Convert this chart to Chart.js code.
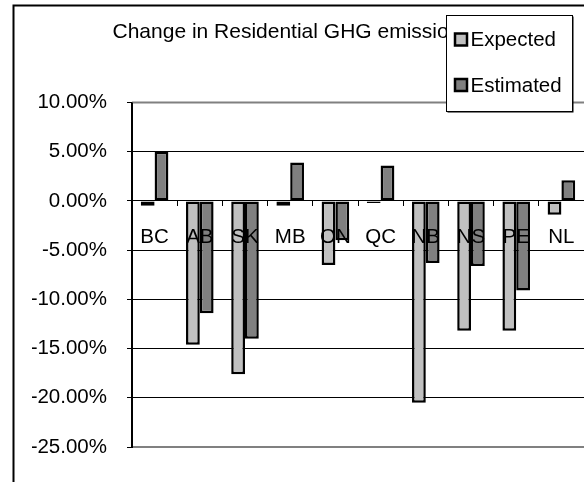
<!DOCTYPE html>
<html>
<head>
<meta charset="utf-8">
<script src="https://cdn.jsdelivr.net/npm/chart.js@4"></script>
<style>
  html, body { margin: 0; padding: 0; background: #fff; }
  canvas { display: block; }
</style>
</head>
<body>
<canvas id="c" width="584" height="482"></canvas>
<script>
const titleText = 'Change in Residential GHG emissions';
const categories = ['BC', 'AB', 'SK', 'MB', 'ON', 'QC', 'NB', 'NS', 'PE', 'NL'];
const expected = [-0.5, -14.6, -17.6, -0.5, -6.5, -0.2, -20.5, -13.2, -13.2, -1.4];
const estimated = [5.0, -11.4, -14.0, 3.9, -4.0, 3.6, -6.3, -6.6, -9.1, 2.1];
const seriesNames = ['Expected', 'Estimated'];
const yTicks = [10, 5, 0, -5, -10, -15, -20, -25];

const FONT = '"Liberation Sans", Arial, sans-serif';
Chart.defaults.font.family = FONT;
Chart.defaults.color = '#000';

const decor = {
  id: 'decor',
  beforeDraw(chart) {
    const ctx = chart.ctx;
    ctx.save();
    ctx.fillStyle = '#fff';
    ctx.fillRect(0, 0, chart.width, chart.height);
    ctx.strokeStyle = '#000';
    ctx.lineWidth = 2;
    ctx.strokeRect(13.5, 5.5, 700, 600);
    ctx.restore();
  },
  beforeDatasetsDraw(chart) {
    const ctx = chart.ctx;
    const a = chart.chartArea;
    ctx.save();
    ctx.strokeStyle = '#808080';
    ctx.lineWidth = 2;
    ctx.beginPath();
    ctx.moveTo(a.left, a.top); ctx.lineTo(a.right + 5, a.top);
    ctx.moveTo(a.left, a.bottom); ctx.lineTo(a.right + 5, a.bottom);
    ctx.stroke();
    ctx.strokeStyle = '#000';
    ctx.beginPath();
    ctx.moveTo(a.left, a.top); ctx.lineTo(a.left, a.bottom + 1);
    ctx.stroke();
    ctx.restore();
  },
  afterDraw(chart) {
    const ctx = chart.ctx;
    ctx.save();
    // title (partly hidden behind the legend, as in the original)
    ctx.font = '21px ' + FONT;
    ctx.fillStyle = '#000';
    ctx.textBaseline = 'alphabetic';
    ctx.textAlign = 'left';
    ctx.fillText(titleText, 112.5, 37.5);
    // legend box
    const lx = 446.5, ly = 15.5, lw = 126, lh = 96;
    ctx.fillStyle = '#000';
    ctx.fillRect(lx + 1, ly + 1, lw, lh);
    ctx.fillStyle = '#fff';
    ctx.fillRect(lx, ly, lw, lh);
    ctx.strokeStyle = '#000';
    ctx.lineWidth = 1;
    ctx.strokeRect(lx, ly, lw, lh);
    ctx.font = '20.5px ' + FONT;
    ctx.textBaseline = 'middle';
    const rows = [39.5, 85];
    chart.data.datasets.forEach((ds, i) => {
      const cy = rows[i];
      ctx.fillStyle = ds.backgroundColor;
      ctx.fillRect(455, cy - 6, 12, 12);
      ctx.strokeStyle = '#000';
      ctx.lineWidth = 2.5;
      ctx.strokeRect(455, cy - 6, 12, 12);
      ctx.fillStyle = '#000';
      ctx.fillText(ds.label, 470.5, cy + 1);
    });
    ctx.restore();
  }
};

new Chart(document.getElementById('c'), {
  type: 'bar',
  data: {
    labels: categories,
    datasets: [
      { label: seriesNames[0], data: expected, backgroundColor: '#C0C0C0', borderColor: '#000', borderWidth: 2.5, borderSkipped: false },
      { label: seriesNames[1], data: estimated, backgroundColor: '#808080', borderColor: '#000', borderWidth: 2.5, borderSkipped: false }
    ]
  },
  options: {
    responsive: false,
    animation: false,
    devicePixelRatio: 1,
    categoryPercentage: 0.61,
    barPercentage: 1,
    layout: { padding: { left: 32, right: -2, top: 102.5, bottom: 35 } },
    plugins: {
      legend: { display: false },
      title: { display: false },
      tooltip: { enabled: false }
    },
    scales: {
      x: {
        type: 'category',
        position: { y: 0 },
        afterFit(scale) { scale.paddingLeft = 0; scale.paddingRight = 0; },
        grid: { drawOnChartArea: false, drawTicks: true, tickLength: 5, color: '#000', offset: true },
        border: { display: false },
        ticks: { z: 1, padding: 19, font: { size: 20.5 }, color: '#000', maxRotation: 0, autoSkip: false }
      },
      y: {
        min: -25,
        max: 10,
        afterFit(scale) { scale.width = 100; },
        afterBuildTicks(scale) { scale.ticks = yTicks.map(v => ({ value: v })); },
        grid: { color: '#000', lineWidth: 1, tickLength: 5, drawTicks: true },
        border: { display: true, color: '#000', width: 2 },
        ticks: {
          padding: 20,
          font: { size: 20.5 },
          color: '#000',
          callback: (v) => v.toFixed(2) + '%'
        }
      }
    }
  },
  plugins: [decor]
});
</script>
</body>
</html>
